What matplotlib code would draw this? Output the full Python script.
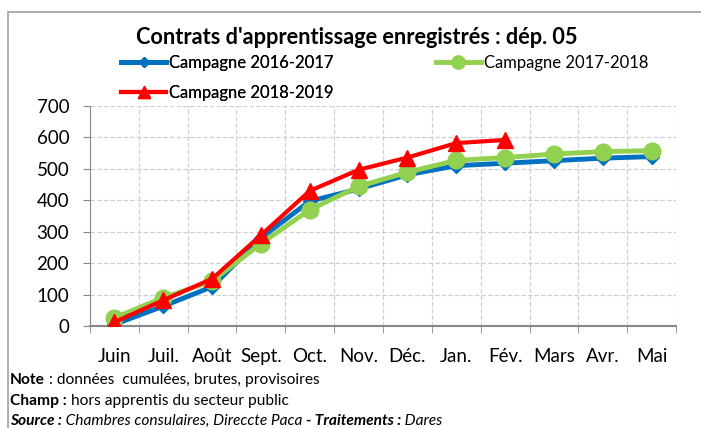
import numpy as np
import matplotlib.pyplot as plt
from matplotlib.patches import Rectangle

plt.rcParams['font.family'] = ['Lato', 'DejaVu Sans']

months = ["Juin", "Juil.", "Août", "Sept.", "Oct.", "Nov.", "Déc.",
          "Jan.", "Fév.", "Mars", "Avr.", "Mai"]
camp_2016 = [5, 63, 125, 280, 397, 436, 481, 510, 518, 526, 534, 539]
camp_2017 = [26, 90, 143, 262, 370, 444, 489, 527, 536, 547, 555, 558]
camp_2018 = [12, 82, 150, 289, 430, 497, 536, 582, 592]

W, H = 701, 428
fig = plt.figure(figsize=(W / 100, H / 100), dpi=100)
ax = fig.add_axes([90 / W, 1 - 326 / H, 586 / W, 220 / H])

# chart frame
fig.patches.append(Rectangle((8 / W, -0.1), 1.2, (1 - 12 / H) + 0.1,
                             transform=fig.transFigure, fill=False,
                             edgecolor='#a0a0a0', lw=1.2))

x = np.arange(len(months))
l1, = ax.plot(x, camp_2016, color='#0070C0', lw=3.5, marker='D', ms=7,
              label='Campagne 2016-2017', zorder=3)
l2, = ax.plot(x, camp_2017, color='#92D050', lw=3.5, marker='o', ms=12,
              label='Campagne 2017-2018', zorder=4)
l3, = ax.plot(x[:len(camp_2018)], camp_2018, color='#FF0000', lw=3, marker='^',
              ms=11, label='Campagne 2018-2019', zorder=5)

ax.set_xlim(-0.5, len(months) - 0.5)
ax.set_ylim(0, 700)
ax.set_yticks(range(0, 701, 100))
ax.set_xticks(x)
ax.set_xticklabels(months)
ax.set_xticks(np.arange(-0.5, len(months), 1), minor=True)
ax.tick_params(axis='x', which='major', length=0, pad=16, labelsize=13.5)
ax.tick_params(axis='x', which='minor', length=5, color='#888888', direction='out')
ax.tick_params(axis='y', length=5, color='#888888', labelsize=13.5, pad=10)
ax.grid(True, axis='y', ls='--', color='#d0d0d0', lw=0.9)
ax.grid(True, axis='x', which='minor', ls='--', color='#d0d0d0', lw=0.9)
for s in ['top', 'right']:
    ax.spines[s].set_visible(False)
ax.spines['left'].set_color('#888888')
ax.spines['bottom'].set_color('#888888')
ax.spines['bottom'].set_linewidth(1.5)

fig.text(357 / W, 1 - 37 / H, "Contrats d'apprentissage enregistrés : dép. 05",
         ha='center', va='center', fontsize=15.7, fontweight='bold')

leg_kw = dict(loc='upper left', frameon=False, fontsize=12, handlelength=2.7,
              labelspacing=0.85, handletextpad=0.2, borderaxespad=0, borderpad=0,
              markerscale=0.8)
leg1 = fig.legend(handles=[l1, l3], bbox_to_anchor=(121 / W, 1 - 55 / H), **leg_kw)
fig.add_artist(leg1)
fig.legend(handles=[l2], bbox_to_anchor=(436 / W, 1 - 55 / H), **leg_kw)

# footnotes made of mixed-style pieces
notes = [
    [("Note", 'bold', 'normal'), (" : données  cumulées, brutes, provisoires", 'normal', 'normal')],
    [("Champ :", 'bold', 'normal'), (" hors apprentis du secteur public", 'normal', 'normal')],
    [("Source :", 'bold', 'italic'), (" Chambres consulaires, Direccte Paca ", 'normal', 'italic'),
     ("- Traitements :", 'bold', 'italic'), (" Dares", 'normal', 'italic')],
]
note_y = [380, 401, 421]
fig.canvas.draw()
renderer = fig.canvas.get_renderer()
for parts, yy in zip(notes, note_y):
    xp = 10
    for txt, wt, st in parts:
        t = fig.text(xp / W, 1 - yy / H, txt, fontsize=11.2, fontweight=wt,
                     fontstyle=st, va='center')
        xp += t.get_window_extent(renderer).width

fig.savefig('out.png', dpi=100)
